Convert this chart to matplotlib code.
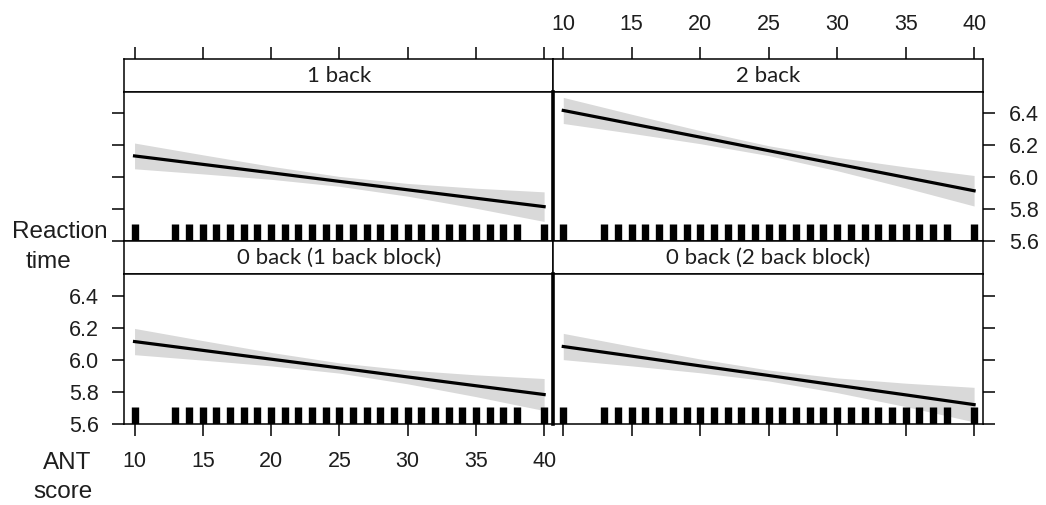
import matplotlib
matplotlib.use("Agg")
import matplotlib.pyplot as plt

plt.rcParams["font.family"] = ["Liberation Sans", "DejaVu Sans"]

W, H = 1046, 505

# ANT score grid at which the fitted effect and its confidence band are shown
ant_x = [10, 15, 20, 25, 30, 35, 40]

# Observed ANT scores (rug)
rug_x = [10] + list(range(13, 39)) + [40]

panel_titles = ["1 back", "2 back", "0 back (1 back block)", "0 back (2 back block)"]

fit_1back = [6.133, 6.080, 6.027, 5.973, 5.920, 5.867, 5.814]
lo_1back = [6.052, 6.020, 5.986, 5.942, 5.880, 5.804, 5.721]
hi_1back = [6.214, 6.140, 6.068, 6.004, 5.960, 5.930, 5.907]

fit_2back = [6.419, 6.335, 6.251, 6.166, 6.082, 5.998, 5.914]
lo_2back = [6.337, 6.275, 6.210, 6.135, 6.040, 5.932, 5.818]
hi_2back = [6.501, 6.395, 6.292, 6.197, 6.124, 6.064, 6.010]

fit_0back_b1 = [6.113, 6.058, 6.003, 5.948, 5.892, 5.837, 5.782]
lo_0back_b1 = [6.031, 5.997, 5.961, 5.916, 5.849, 5.769, 5.682]
hi_0back_b1 = [6.195, 6.119, 6.045, 5.980, 5.935, 5.905, 5.882]

fit_0back_b2 = [6.082, 6.022, 5.961, 5.901, 5.840, 5.780, 5.719]
lo_0back_b2 = [6.000, 5.961, 5.918, 5.867, 5.794, 5.707, 5.611]
hi_0back_b2 = [6.164, 6.083, 6.004, 5.935, 5.886, 5.853, 5.827]

x_ticks = [10, 15, 20, 25, 30, 35, 40]
y_ticks = [5.6, 5.8, 6.0, 6.2, 6.4]
y_tick_labels = ["5.6", "5.8", "6.0", "6.2", "6.4"]

series = [
    (fit_1back, lo_1back, hi_1back),
    (fit_2back, lo_2back, hi_2back),
    (fit_0back_b1, lo_0back_b1, hi_0back_b1),
    (fit_0back_b2, lo_0back_b2, hi_0back_b2),
]

XLIM = (9.25, 40.65)
YLIM = (5.598, 6.535)
TXT = "#1e1e1e"
BAND = "#d9d9d9"

fig = plt.figure(figsize=(W / 100, H / 100), dpi=100)


def box(x0, y0, x1, y1):
    return [x0 / W, 1 - y1 / H, (x1 - x0) / W, (y1 - y0) / H]


cols = [(124.3, 553.0), (553.0, 983.0)]
rows = [((59.0, 92.0), (92.0, 241.0)), ((241.0, 274.0), (274.0, 424.0))]

tick_kw = dict(direction="out", length=8.5, width=1.1, pad=10,
               labelsize=15.5, labelcolor=TXT, color="black")

for i, title in enumerate(panel_titles):
    r, c = divmod(i, 2)
    (sy0, sy1), (py0, py1) = rows[r]
    cx0, cx1 = cols[c]

    # strip
    sax = fig.add_axes(box(cx0, sy0, cx1, sy1))
    sax.set_xlim(*XLIM)
    sax.set_ylim(0, 1)
    sax.set_yticks([])
    sax.text(0.5, 0.48, title, transform=sax.transAxes, ha="center",
             va="center", fontsize=16, family=["Lato", "DejaVu Sans"],
             color=TXT)
    for s in sax.spines.values():
        s.set_linewidth(1.1)
    if r == 0:
        sax.set_xticks(x_ticks)
        sax.xaxis.set_ticks_position("top")
        sax.tick_params(axis="x", **tick_kw)
        sax.tick_params(axis="x", labeltop=(c == 1), labelbottom=False,
                        bottom=False, top=True, pad=9)
    else:
        sax.set_xticks([])

    # panel
    ax = fig.add_axes(box(cx0, py0, cx1, py1))
    fit, lo, hi = series[i]
    ax.fill_between(ant_x, lo, hi, color=BAND, lw=0, zorder=1)
    ax.plot(ant_x, fit, color="black", lw=2.3, zorder=3)
    ax.vlines(rug_x, 0, 0.115, transform=ax.get_xaxis_transform(),
              colors="black", lw=5.3, zorder=4)
    ax.set_xlim(*XLIM)
    ax.set_ylim(*YLIM)
    ax.set_xticks(x_ticks)
    ax.set_yticks(y_ticks)
    ax.set_yticklabels(y_tick_labels)
    for s in ax.spines.values():
        s.set_linewidth(1.1)
    if c == 1:
        ax.spines["left"].set_linewidth(2.6)

    ax.tick_params(axis="both", **tick_kw)
    # x axis ticks only along the bottom row
    ax.tick_params(axis="x", top=False, labeltop=False,
                   bottom=(r == 1), labelbottom=(r == 1 and c == 0), pad=11)
    # y axis ticks on the outer sides, labels alternate
    if c == 0:
        ax.tick_params(axis="y", left=True, right=False,
                       labelleft=(r == 1), labelright=False)
    else:
        ax.tick_params(axis="y", left=False, right=True,
                       labelleft=False, labelright=(r == 0))

# axis titles
lab_kw = dict(fontsize=17.5, color=TXT, ha="center", va="center")
fig.text(60 / W, 1 - 232 / H, "Reaction", **lab_kw)
fig.text(48.5 / W, 1 - 262 / H, "time", **lab_kw)
fig.text(67 / W, 1 - 463 / H, "ANT", **lab_kw)
fig.text(63 / W, 1 - 492 / H, "score", **lab_kw)

fig.savefig("out.png", dpi=100, facecolor="white")
